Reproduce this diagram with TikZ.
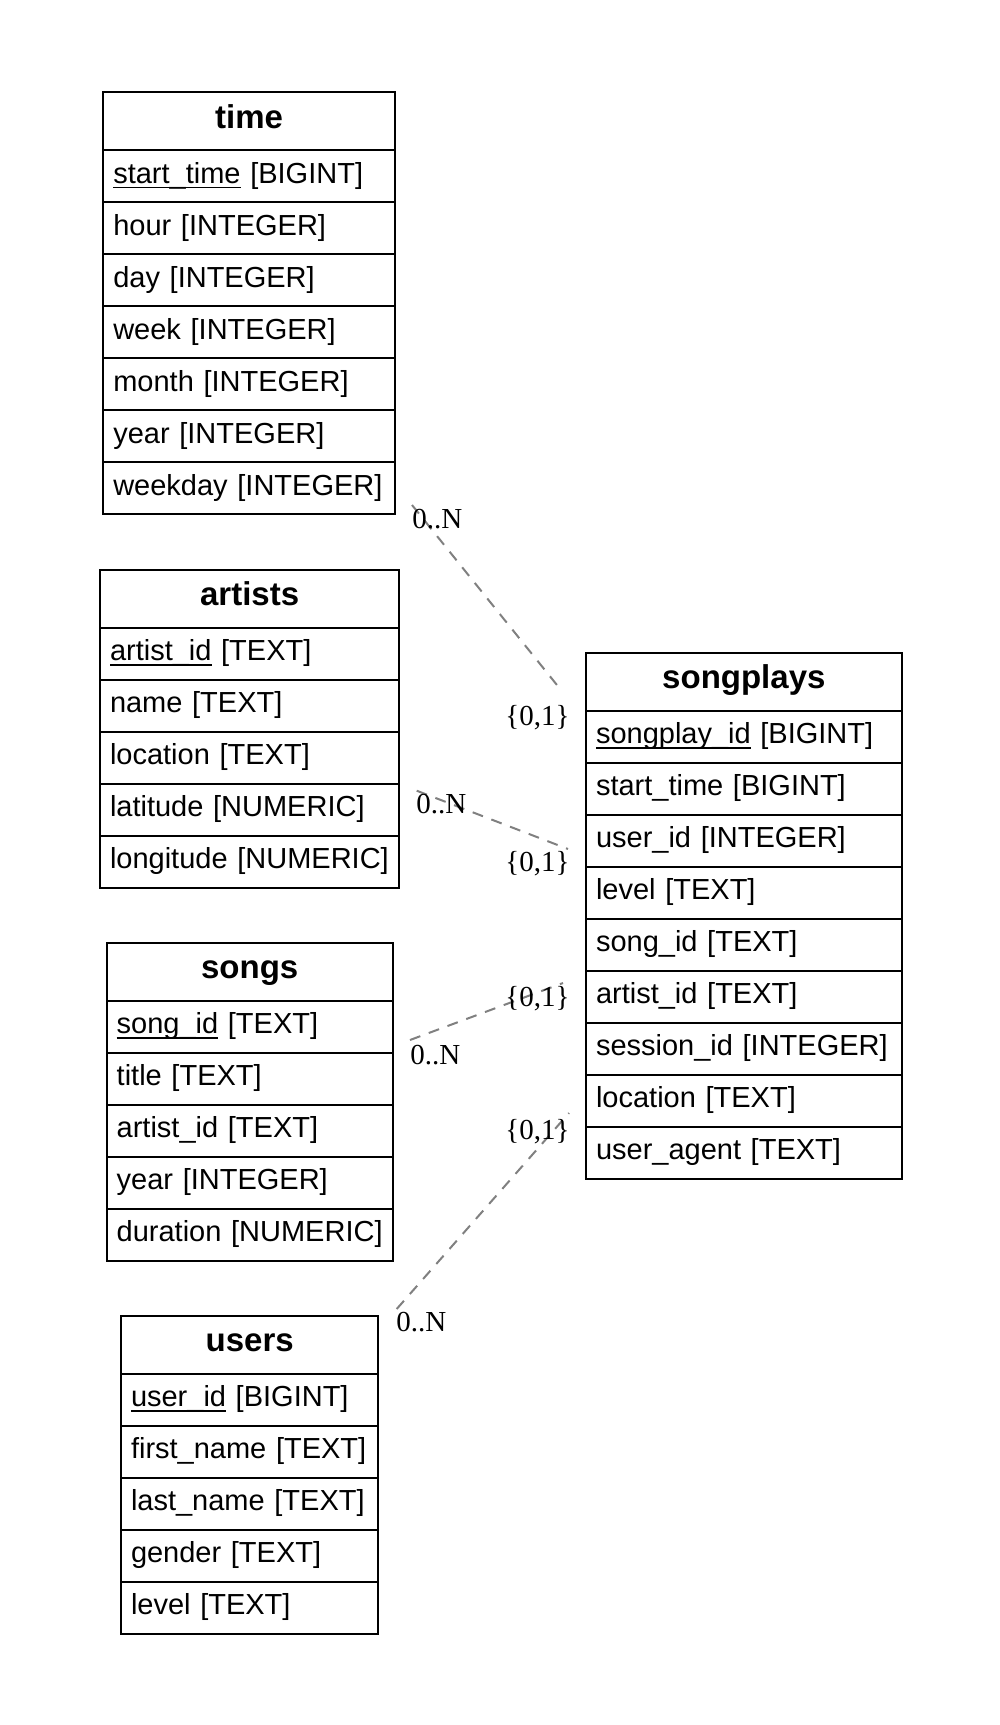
\documentclass[tikz,border=0pt]{standalone}
\usepackage{fontspec}
\setmainfont{Liberation Sans}
\newfontfamily\cardfont{Liberation Serif}
\usepackage{xcolor}
\usetikzlibrary{positioning}

\definecolor{edgegray}{HTML}{808080}
% underlined key column
\newcommand{\keyname}[1]{\setbox0\hbox{#1}\rlap{\rule[-2.5pt]{\wd0}{0.8pt}}\box0\relax}

\begin{document}
\begin{tikzpicture}[x=0.5pt,y=-0.5pt,
    head/.style={draw,line width=1pt,outer sep=0pt,inner xsep=5pt,inner ysep=0pt,
                 text width=#1,align=center,text height=18pt,text depth=11pt,
                 font=\bfseries\fontsize{16.5}{18}\selectfont},
    field/.style={draw,line width=1pt,outer sep=0pt,inner xsep=5pt,inner ysep=0pt,
                  text width=#1,align=left,text height=16.5pt,text depth=9.5pt,
                  font=\fontsize{14.5}{16}\selectfont},
    card/.style={font=\cardfont\fontsize{14.5}{16}\selectfont,inner sep=0pt,anchor=base west},
    rel/.style={draw=edgegray,line width=1pt,dash pattern=on 5.5pt off 4.5pt}]
  \useasboundingbox (0,0) rectangle (1000,1725);

  % time
  \node[head=135.85pt,anchor=north west] (time) at (103.3,92.3) {time};
  \node[field=135.85pt] (time1) [below=0pt of time] {\keyname{start\_time} [BIGINT]};
  \node[field=135.85pt] (time2) [below=0pt of time1] {hour [INTEGER]};
  \node[field=135.85pt] (time3) [below=0pt of time2] {day [INTEGER]};
  \node[field=135.85pt] (time4) [below=0pt of time3] {week [INTEGER]};
  \node[field=135.85pt] (time5) [below=0pt of time4] {month [INTEGER]};
  \node[field=135.85pt] (time6) [below=0pt of time5] {year [INTEGER]};
  \node[field=135.85pt] (time7) [below=0pt of time6] {weekday [INTEGER]};

  % artists
  \node[head=139.65pt,anchor=north west] (artists) at (100,569.8) {artists};
  \node[field=139.65pt] (artists1) [below=0pt of artists] {\keyname{artist\_id} [TEXT]};
  \node[field=139.65pt] (artists2) [below=0pt of artists1] {name [TEXT]};
  \node[field=139.65pt] (artists3) [below=0pt of artists2] {location [TEXT]};
  \node[field=139.65pt] (artists4) [below=0pt of artists3] {latitude [NUMERIC]};
  \node[field=139.65pt] (artists5) [below=0pt of artists4] {longitude [NUMERIC]};

  % songs
  \node[head=133pt,anchor=north west] (songs) at (106.7,942.7) {songs};
  \node[field=133pt] (songs1) [below=0pt of songs] {\keyname{song\_id} [TEXT]};
  \node[field=133pt] (songs2) [below=0pt of songs1] {title [TEXT]};
  \node[field=133pt] (songs3) [below=0pt of songs2] {artist\_id [TEXT]};
  \node[field=133pt] (songs4) [below=0pt of songs3] {year [INTEGER]};
  \node[field=133pt] (songs5) [below=0pt of songs4] {duration [NUMERIC]};

  % users
  \node[head=118.7pt,anchor=north west] (users) at (121,1315.6) {users};
  \node[field=118.7pt] (users1) [below=0pt of users] {\keyname{user\_id} [BIGINT]};
  \node[field=118.7pt] (users2) [below=0pt of users1] {first\_name [TEXT]};
  \node[field=118.7pt] (users3) [below=0pt of users2] {last\_name [TEXT]};
  \node[field=118.7pt] (users4) [below=0pt of users3] {gender [TEXT]};
  \node[field=118.7pt] (users5) [below=0pt of users4] {level [TEXT]};

  % songplays
  \node[head=147.85pt,anchor=north west] (songplays) at (586,652.7) {songplays};
  \node[field=147.85pt] (songplays1) [below=0pt of songplays] {\keyname{songplay\_id} [BIGINT]};
  \node[field=147.85pt] (songplays2) [below=0pt of songplays1] {start\_time [BIGINT]};
  \node[field=147.85pt] (songplays3) [below=0pt of songplays2] {user\_id [INTEGER]};
  \node[field=147.85pt] (songplays4) [below=0pt of songplays3] {level [TEXT]};
  \node[field=147.85pt] (songplays5) [below=0pt of songplays4] {song\_id [TEXT]};
  \node[field=147.85pt] (songplays6) [below=0pt of songplays5] {artist\_id [TEXT]};
  \node[field=147.85pt] (songplays7) [below=0pt of songplays6] {session\_id [INTEGER]};
  \node[field=147.85pt] (songplays8) [below=0pt of songplays7] {location [TEXT]};
  \node[field=147.85pt] (songplays9) [below=0pt of songplays8] {user\_agent [TEXT]};

  % relationship ends
  \coordinate (t-end) at (412,505);
  \coordinate (t-sp) at (561,690);
  \coordinate (a-end) at (416.7,790.7);
  \coordinate (a-sp) at (568,849);
  \coordinate (s-end) at (410,1040);
  \coordinate (s-sp) at (563,983);
  \coordinate (u-end) at (396.7,1309);
  \coordinate (u-sp) at (569,1113);

  \draw[rel] (t-end) -- (t-sp);
  \draw[rel] (a-end) -- (a-sp);
  \draw[rel] (s-end) -- (s-sp);
  \draw[rel] (u-end) -- (u-sp);

  % cardinalities
  \node[card] (t-many) at (412,528) {0..N};
  \node[card] (t-one) at (505,725) {\{0,1\}};
  \node[card] (a-many) at (416,813) {0..N};
  \node[card] (a-one) at (505,871) {\{0,1\}};
  \node[card] (s-many) at (410,1064) {0..N};
  \node[card] (s-one) at (505,1006) {\{0,1\}};
  \node[card] (u-many) at (396,1331) {0..N};
  \node[card] (u-one) at (505,1139) {\{0,1\}};
\end{tikzpicture}
\end{document}
